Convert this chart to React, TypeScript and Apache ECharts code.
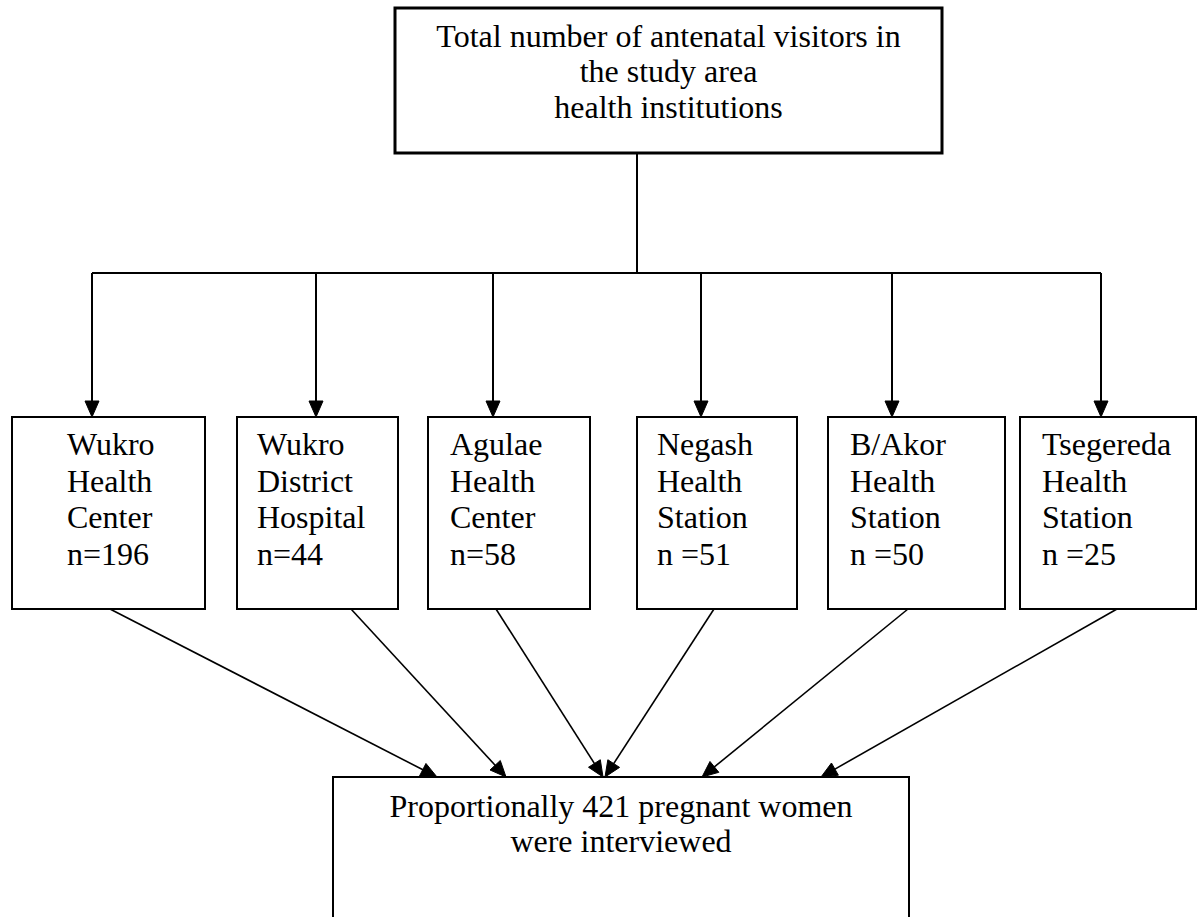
import React, { useEffect, useRef } from "react";
import * as echarts from "echarts";

// ---- Data ----
const topTitleLines = ["Total number of antenatal visitors in", "the study area", "health institutions"];
const facilityNameLines = [
  ["Wukro", "Health", "Center"],
  ["Wukro", "District", "Hospital"],
  ["Agulae", "Health", "Center"],
  ["Negash", "Health", "Station"],
  ["B/Akor", "Health", "Station"],
  ["Tsegereda", "Health", "Station"],
];
const sampleSizes = [196, 44, 58, 51, 50, 25];
const sizePrefixes = ["n=", "n=", "n=", "n =", "n =", "n ="];
const totalInterviewed = 421;
const bottomLines = [`Proportionally ${totalInterviewed} pregnant women`, "were interviewed"];

// ---- Layout (positions, sizes, styles) ----
const FONT_FAMILY = "Liberation Serif";
const FONT_SIZE = 32;
const topBox = { x1: 395, x2: 942, y1: 8, y2: 153 };
const topLineY = [36, 71, 107];
const trunkX = 637;
const busY = 273;
const boxY1 = 417;
const boxY2 = 609;
const boxXs = [
  [12, 205],
  [237, 398],
  [428, 590],
  [637, 797],
  [828, 1005],
  [1020, 1196],
];
const dropX = [92, 316, 493, 701, 892, 1101];
const textX = [67, 257, 450, 657, 850, 1042];
const boxLineY = [444, 481, 517, 554];
const diagStartX = [110, 351, 496, 714, 908, 1117];
const diagEndX = [437, 506, 603, 605, 702, 821];
const bottomBox = { x1: 333, x2: 909, y1: 777 };
const bottomLineY = [806, 841];

function arrowHead(tx: number, ty: number, fx: number, fy: number, len = 16, half = 7) {
  const dx = tx - fx;
  const dy = ty - fy;
  const d = Math.sqrt(dx * dx + dy * dy);
  const ux = dx / d;
  const uy = dy / d;
  const bx = tx - ux * len;
  const by = ty - uy * len;
  const px = -uy;
  const py = ux;
  return {
    type: "polygon",
    shape: {
      points: [
        [tx, ty],
        [bx + px * half, by + py * half],
        [bx - px * half, by - py * half],
      ],
    },
    style: { fill: "#000", stroke: "#000", lineWidth: 1 },
    silent: true,
  };
}

function textEl(text: string, x: number, y: number, align: string) {
  return {
    type: "text",
    x,
    y,
    style: {
      text,
      fontFamily: FONT_FAMILY,
      fontSize: FONT_SIZE,
      fill: "#000",
      textAlign: align,
      textVerticalAlign: "middle",
    },
    silent: true,
  };
}

function line(x1: number, y1: number, x2: number, y2: number, w = 2) {
  return {
    type: "line",
    shape: { x1, y1, x2, y2 },
    style: { stroke: "#000", lineWidth: w },
    silent: true,
  };
}

export default function App() {
  const ref = useRef<HTMLDivElement>(null);

  useEffect(() => {
    document.body.style.margin = "0";
    const chart = echarts.init(ref.current!, null, { renderer: "svg" });
    const els: any[] = [];

    // top box
    els.push({
      type: "rect",
      shape: { x: topBox.x1, y: topBox.y1, width: topBox.x2 - topBox.x1, height: topBox.y2 - topBox.y1 },
      style: { fill: "#fff", stroke: "#000", lineWidth: 3 },
      silent: true,
    });
    const topCx = (topBox.x1 + topBox.x2) / 2;
    topTitleLines.forEach((t, i) => els.push(textEl(t, topCx, topLineY[i], "center")));

    // trunk and bus
    els.push(line(trunkX, topBox.y2, trunkX, busY));
    els.push(line(dropX[0], busY, dropX[dropX.length - 1], busY));

    // facility boxes
    facilityNameLines.forEach((names, i) => {
      const [x1, x2] = boxXs[i];
      els.push(line(dropX[i], busY, dropX[i], boxY1 - 12));
      els.push(arrowHead(dropX[i], boxY1, dropX[i], busY));
      els.push({
        type: "rect",
        shape: { x: x1, y: boxY1, width: x2 - x1, height: boxY2 - boxY1 },
        style: { fill: "#fff", stroke: "#000", lineWidth: 2 },
        silent: true,
      });
      const lines = [...names, `${sizePrefixes[i]}${sampleSizes[i]}`];
      lines.forEach((t, j) => els.push(textEl(t, textX[i], boxLineY[j], "left")));
    });

    // bottom box
    els.push({
      type: "rect",
      shape: { x: bottomBox.x1, y: bottomBox.y1, width: bottomBox.x2 - bottomBox.x1, height: 300 },
      style: { fill: "#fff", stroke: "#000", lineWidth: 2 },
      silent: true,
    });
    const botCx = (bottomBox.x1 + bottomBox.x2) / 2;
    bottomLines.forEach((t, i) => els.push(textEl(t, botCx, bottomLineY[i], "center")));

    // diagonal arrows
    diagStartX.forEach((sx, i) => {
      const ex = diagEndX[i];
      const ey = bottomBox.y1;
      const dx = ex - sx;
      const dy = ey - boxY2;
      const d = Math.sqrt(dx * dx + dy * dy);
      const lx = ex - (dx / d) * 12;
      const ly = ey - (dy / d) * 12;
      els.push(line(sx, boxY2, lx, ly, 1.6));
      els.push(arrowHead(ex, ey, sx, boxY2));
    });

    chart.setOption({
      animation: false,
      backgroundColor: "#fff",
      graphic: { elements: els },
    });
    return () => chart.dispose();
  }, []);

  return (
    <div
      ref={ref}
      style={{ position: "absolute", left: 0, top: 0, width: 1198, height: 917, background: "#fff" }}
    />
  );
}
